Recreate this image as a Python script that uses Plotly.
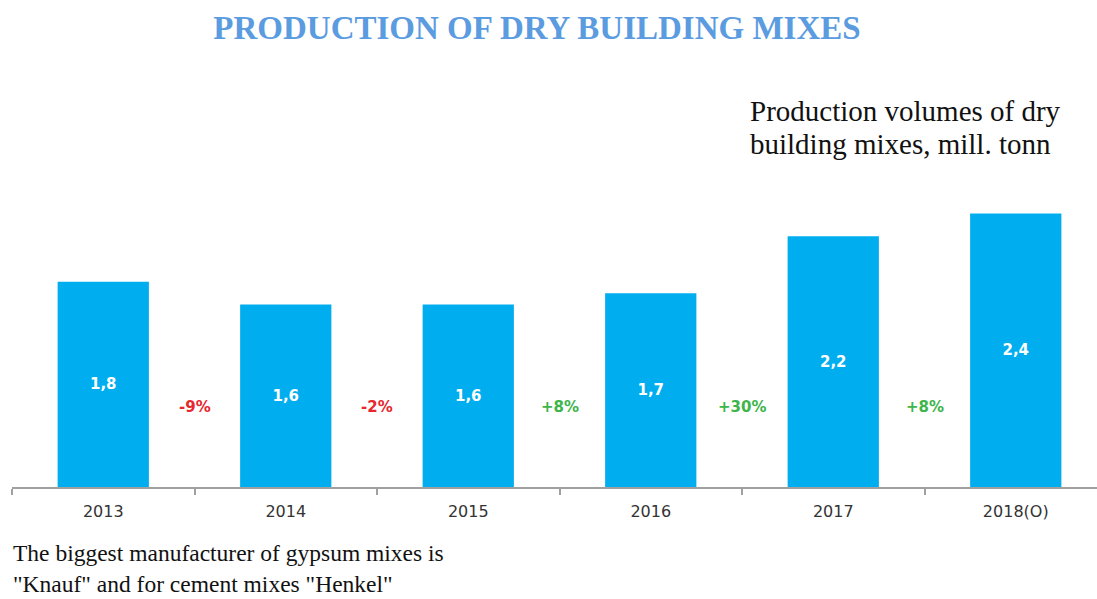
import plotly.graph_objects as go

# Production volumes of dry building mixes, mill. tonnes
years = ["2013", "2014", "2015", "2016", "2017", "2018(O)"]
volumes = [1.8, 1.6, 1.6, 1.7, 2.2, 2.4]
# Year-over-year change between neighbouring bars
changes = ["-9%", "-2%", "+8%", "+30%", "+8%"]

W, H = 1097, 599
L, R, T, B = 12, 0, 145, 112
plot_w = W - L - R
plot_h = H - T - B

BAR = "#00AEEF"
RED = "#E8262E"
GREEN = "#3DB54A"


def px_x(px):
    return (px - L) / plot_w


def px_y(py):
    return (H - B - py) / plot_h


fig = go.Figure()
fig.add_trace(go.Bar(
    x=years,
    y=volumes,
    width=0.5,
    marker=dict(color=BAR, line=dict(width=0)),
    text=[f"{v:.1f}".replace(".", ",") for v in volumes],
    textposition="inside",
    insidetextanchor="middle",
    textfont=dict(family="DejaVu Sans", size=15, color="white", weight="bold"),
    hoverinfo="skip",
))

annotations = []
for i, c in enumerate(changes):
    annotations.append(dict(
        x=i + 0.5, y=0.7, xref="x", yref="y",
        text=f"<b>{c}</b>", showarrow=False,
        font=dict(family="DejaVu Sans", size=15,
                  color=RED if c.startswith("-") else GREEN),
    ))

# Caption above the last bars
for line, cy in [("Production volumes of dry", 111),
                 ("building mixes, mill. tonn", 144)]:
    annotations.append(dict(
        x=px_x(748), y=px_y(cy), xref="paper", yref="paper",
        xanchor="left", yanchor="middle", align="left", showarrow=False,
        text=line,
        font=dict(family="Liberation Serif", size=29, color="#111111"),
    ))

# Note under the axis
annotations.append(dict(
    x=px_x(12), y=px_y(598), xref="paper", yref="paper",
    xanchor="left", yanchor="bottom", align="left", showarrow=False,
    text="The biggest manufacturer of gypsum mixes is<br>"
         "\"Knauf\" and for cement mixes \"Henkel\"",
    borderpad=0,
    font=dict(family="Liberation Serif", size=23.5, color="#111111"),
))

fig.update_layout(
    width=W, height=H,
    margin=dict(l=L, r=R, t=T, b=B),
    paper_bgcolor="white", plot_bgcolor="white",
    showlegend=False,
    title=dict(
        text="<b>PRODUCTION OF DRY BUILDING MIXES</b>",
        x=537 / W, xanchor="center", xref="container",
        y=1 - 27 / H, yanchor="middle", yref="container",
        font=dict(family="Liberation Serif", size=33, color="#5B9BDF"),
    ),
    annotations=annotations,
    xaxis=dict(
        type="category",
        range=[-0.5, -0.5 + plot_w / 182.5],
        showline=True, linecolor="#A0A0A0", linewidth=1.5,
        ticks="outside", tickson="boundaries", ticklen=6,
        tickcolor="#A0A0A0", tickwidth=1.5,
        showgrid=False, zeroline=False,
        tickfont=dict(family="DejaVu Sans", size=16, color="#333333"),
        ticklabelstandoff=9,
    ),
    yaxis=dict(
        range=[0, plot_h / 114],
        visible=False, showgrid=False, zeroline=False,
    ),
)

fig.write_html("out.html")
